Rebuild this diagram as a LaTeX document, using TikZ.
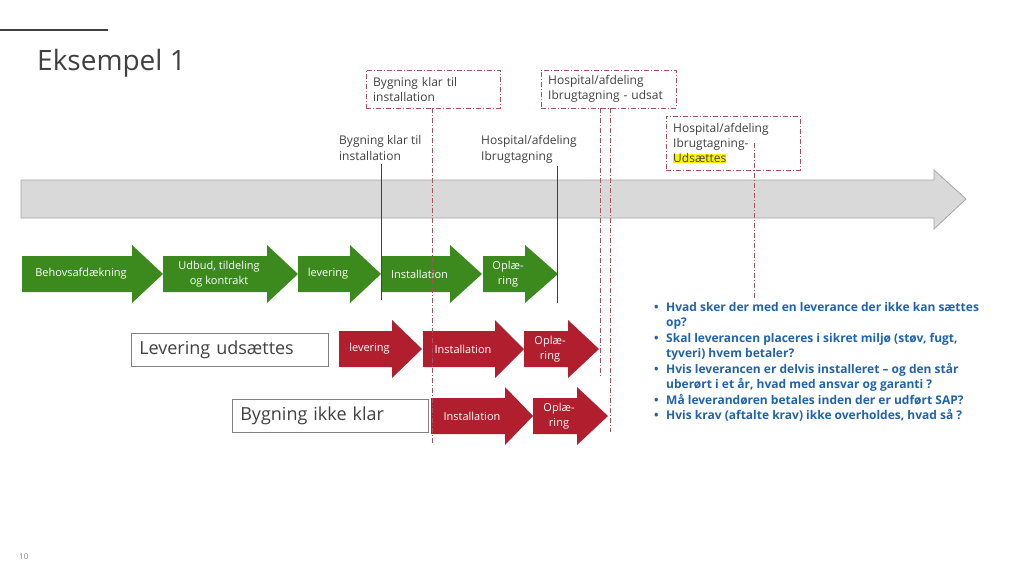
\documentclass[tikz,border=0pt]{standalone}
\usepackage{fontspec}
\setmainfont{Open Sans}
\usepackage{xcolor}
\usetikzlibrary{calc}
\definecolor{phasegreen}{HTML}{3C8A1E}
\definecolor{phasered}{HTML}{B11F2E}
\definecolor{axisfill}{HTML}{D9D9D9}
\definecolor{axisline}{HTML}{A6A6A6}
\definecolor{markline}{HTML}{A8505F}
\definecolor{labelgray}{HTML}{404040}
\definecolor{questblue}{HTML}{1F62B0}
\newcommand{\phasearrow}[7]{%
  \fill[#2] (#3,#6-18) -- (#4,#6-18) -- (#4,#6-29) -- (#5,#6) -- (#4,#6+29) -- (#4,#6+18) -- (#3,#6+18) -- cycle;
  \node[phasetext] (#1) at ({(#3+#4)/2+4},#6) {#7};}
\newcommand{\qitem}{\makebox[12pt][l]{\textbullet}}
\newcommand{\qcont}{\hspace*{12pt}}

\begin{document}
\begin{tikzpicture}[x=1pt,y=-1pt,
    phasetext/.style={text=white,align=center,inner sep=0pt,font=\fontsize{11}{14.5}\selectfont},
    marklabel/.style={text=labelgray,align=left,inner sep=0pt,anchor=north west,font=\fontsize{12}{16}\selectfont},
    markbox/.style={draw=markline,dash pattern=on 5pt off 2pt on 1pt off 2pt,text=labelgray,align=left,
        inner xsep=7pt,inner ysep=0pt,anchor=north west,font=\fontsize{12}{15}\selectfont},
    markdash/.style={markline,dash pattern=on 5pt off 2pt on 1pt off 2pt},
    caseboxstyle/.style={draw=gray,line width=0.6pt,text=labelgray,anchor=north west,align=left,
        inner xsep=8pt,minimum height=33pt,font=\fontsize{18}{20}\selectfont}]
\useasboundingbox (0,0) rectangle (1024,579);
\newcommand{\rowgreen}{274}
\newcommand{\rowredA}{349}
\newcommand{\rowredB}{416}

\draw[labelgray,line width=2pt] (0,30) -- (108,30);
\node[anchor=base west,inner sep=0pt,text=labelgray,font=\fontsize{28}{34}\selectfont] (title) at (37,70) {Eksempel 1};

\draw[fill=axisfill,draw=axisline,line width=0.8pt] (21,180) -- (934,180) -- (934,170) -- (966,199) -- (934,229) -- (934,218) -- (21,218) -- cycle;

\phasearrow{gbehov}{phasegreen}{22}{132}{163}{\rowgreen}{Behovsafdækning}
\phasearrow{gudbud}{phasegreen}{163}{267}{298}{\rowgreen}{Udbud, tildeling\\og kontrakt}
\phasearrow{glev}{phasegreen}{298}{350}{381}{\rowgreen}{levering}
\phasearrow{ginst}{phasegreen}{381}{450}{482}{\rowgreen}{Installation}
\phasearrow{gopl}{phasegreen}{483}{525}{558}{\rowgreen}{Oplæ-\\ring}

\node[caseboxstyle,text width=181pt] (caselev) at (131,333) {Levering udsættes};
\phasearrow{rlev}{phasered}{339}{392}{422}{\rowredA}{levering}
\phasearrow{rinst}{phasered}{423}{495}{524}{\rowredA}{Installation}
\phasearrow{ropl}{phasered}{524}{568}{599}{\rowredA}{Oplæ-\\ring}

\node[caseboxstyle,text width=180pt] (casebyg) at (232,399) {Bygning ikke klar};
\phasearrow{rinstb}{phasered}{431}{505}{533}{\rowredB}{Installation}
\phasearrow{roplb}{phasered}{533}{577}{608}{\rowredB}{Oplæ-\\ring}

\node[marklabel] (lblbyg) at (339,135) {Bygning klar til\\installation};
\node[marklabel] (lblhosp) at (481,135) {Hospital/afdeling\\Ibrugtagning};
\coordinate (lblbygend) at (381,300);
\coordinate (lblhospend) at (557,303);
\draw[labelgray,line width=0.6pt] ($(lblbyg.south -| lblbygend)+(0,3)$) -- (lblbygend);
\draw[labelgray,line width=0.6pt] ($(lblhosp.south -| lblhospend)+(0,3)$) -- (lblhospend);

\node[markbox,text width=120pt,minimum height=38pt] (boxbyg) at (366,70) {Bygning klar til\\installation};
\node[markbox,text width=121pt,minimum height=38pt] (boxhosp) at (541,70) {Hospital/afdeling\\Ibrugtagning - udsat};
\node[markbox,text width=120pt,minimum height=54pt] (boxuds) at (666,116) {Hospital/afdeling\\Ibrugtagning-\\{\setlength{\fboxsep}{0pt}\colorbox{yellow}{Udsættes}}};
\coordinate (boxbygend) at (432,445);
\coordinate (boxhospenda) at (600,378);
\coordinate (boxhospendb) at (610,432);
\coordinate (boxudsend) at (754,300);
\draw[markdash] (boxbyg.south -| boxbygend) -- (boxbygend);
\draw[markdash] (boxhosp.south -| boxhospenda) -- (boxhospenda);
\draw[markdash] (boxhosp.south -| boxhospendb) -- (boxhospendb);
\draw[markdash] (boxuds.center -| boxudsend) -- (boxudsend);

\node[anchor=north west,inner sep=0pt,align=left,text=questblue,font=\bfseries\fontsize{12}{15.5}\selectfont] (questions) at (654,302) {%
\qitem Hvad sker der med en leverance der ikke kan sættes\\
\qcont op?\\
\qitem Skal leverancen placeres i sikret miljø (støv, fugt,\\
\qcont tyveri) hvem betaler?\\
\qitem Hvis leverancen er delvis installeret – og den står\\
\qcont uberørt i et år, hvad med ansvar og garanti ?\\
\qitem Må leverandøren betales inden der er udført SAP?\\
\qitem Hvis krav (aftalte krav) ikke overholdes, hvad så ?};

\node[anchor=base west,inner sep=0pt,text=gray,font=\fontsize{8}{9}\selectfont] (pagenr) at (19,559) {10};
\end{tikzpicture}
\end{document}
